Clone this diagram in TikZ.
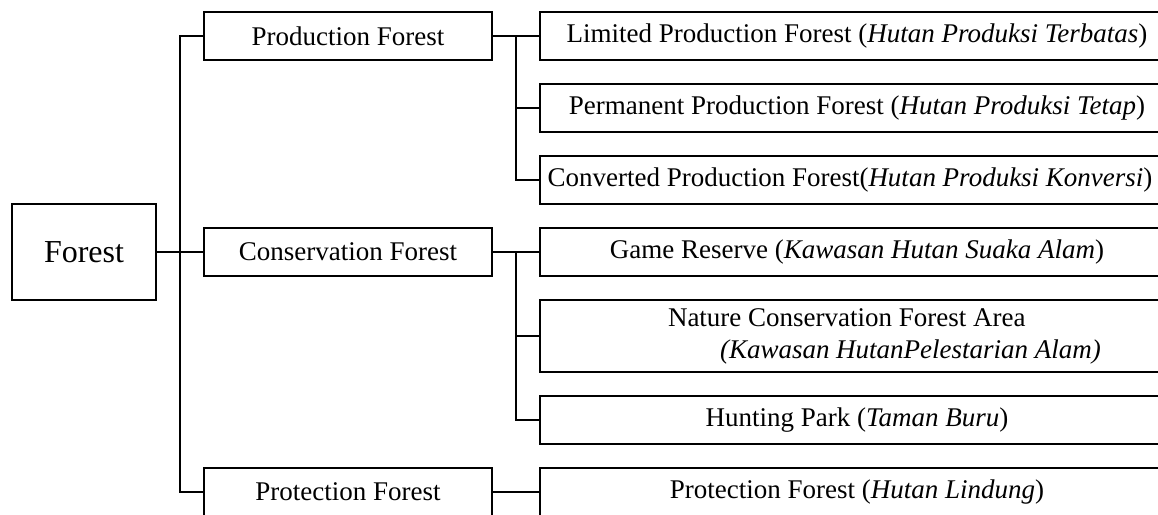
\documentclass[tikz,border=0pt]{standalone}
\usepackage{fontspec}
\setmainfont{Liberation Serif}
\begin{document}
\begin{tikzpicture}[x=1pt,y=-1pt,line width=2.6pt,
  box/.style={draw,line width=2.6pt,inner sep=0pt,outer sep=0pt,anchor=north west,
    font=\fontsize{27}{31}\selectfont},
  lvl/.style={box,minimum width=288pt,minimum height=48pt},
  leaf/.style={box,minimum width=634pt,minimum height=48pt},
  link/.style={line width=2.6pt}]
\useasboundingbox (0,0) rectangle (1158,514);
% root
\node[box,minimum width=144pt,minimum height=96pt,font=\fontsize{32}{36}\selectfont] (forest) at (12,204) {Forest};
% level 2
\node[lvl] (prod) at (204,12) {Production Forest};
\node[lvl] (cons) at (204,228) {Conservation Forest};
\node[lvl] (prot) at (204,468) {Protection Forest};
% leaves
\node[leaf] (lim) at (540,12) {Limited Production Forest (\textit{Hutan Produksi Terbatas})};
\node[leaf] (perm) at (540,84) {Permanent Production Forest (\textit{Hutan Produksi Tetap})};
\node[leaf] (conv) at (540,156) {\hspace*{-14pt}Converted Production Forest(\textit{Hutan Produksi Konversi})};
\node[leaf] (game) at (540,228) {Game Reserve (\textit{Kawasan Hutan Suaka Alam})};
\node[leaf,minimum height=72pt] (nat) at (540,300)
  {\begin{tabular}{@{}l@{}}\makebox[634pt][l]{\hspace*{128pt}Nature Conservation Forest Area}\\[1pt]
   \makebox[634pt][l]{\hspace*{180pt}\textit{(Kawasan HutanPelestarian Alam)}}\end{tabular}};
\node[leaf] (hunt) at (540,396) {Hunting Park (\textit{Taman Buru})};
\node[leaf] (protl) at (540,468) {Protection Forest (\textit{Hutan Lindung})};
% junctions
\coordinate (j1) at (180,252);
\coordinate (j2) at (516,36);
\coordinate (j3) at (516,252);
% connectors
\draw[link] (forest.east) -- (cons.west);
\draw[link] (prod.west) -| (j1);
\draw[link] (prot.west) -| (j1);
\draw[link] (prod.east) -- (lim.west);
\draw[link] (conv.west) -| (j2);
\draw[link] (perm.west) -- (perm.west -| j2);
\draw[link] (cons.east) -- (game.west);
\draw[link] (hunt.west) -| (j3);
\draw[link] (nat.west) -- (nat.west -| j3);
\draw[link] (prot.east) -- (protl.west);
\end{tikzpicture}
\end{document}
